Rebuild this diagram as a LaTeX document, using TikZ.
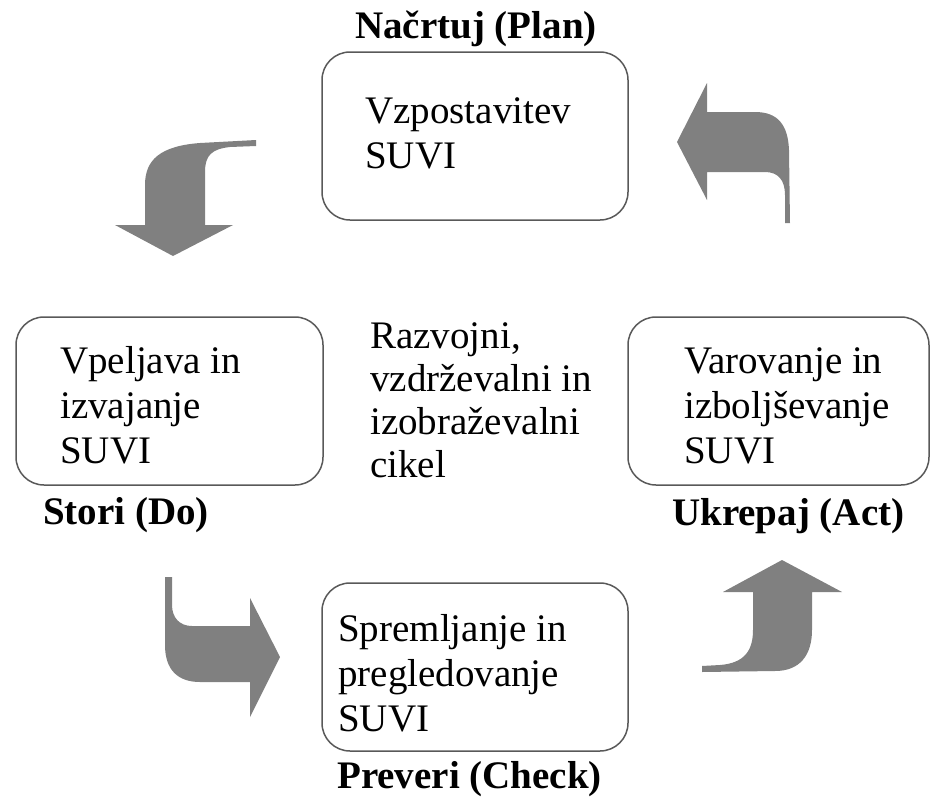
\documentclass[tikz,border=0pt]{standalone}
\usepackage{fontspec}
\setmainfont{Liberation Serif}
\begin{document}
\begin{tikzpicture}[x=1pt,y=-1pt,
  box/.style={draw=black!65,line width=1.5pt,rounded corners=28pt,minimum width=#1,minimum height=168pt,inner sep=0pt},
  body/.style={anchor=base west,inner sep=0pt,align=left,font=\fontsize{39}{45}\selectfont},
  mid/.style={anchor=base west,inner sep=0pt,align=left,font=\fontsize{39}{43}\selectfont},
  lbl/.style={anchor=base west,inner sep=0pt,font=\fontsize{39}{45}\selectfont\bfseries},
  bigarrow/.style={fill=black!50,draw=none}]
\useasboundingbox (0,0) rectangle (930,796);
% boxes
\node[box=306pt] (plan) at (475,136) {};
\node[box=307pt] (do) at (169.5,401) {};
\node[box=301pt] (act) at (778.5,401) {};
\node[box=306pt] (check) at (475,667) {};
% texts (anchored at the baseline of the last line)
\node[body] (tplan) at (365,168) {Vzpostavitev\\SUVI};
\node[body] (tdo) at (60,463) {Vpeljava in\\izvajanje\\SUVI};
\node[body] (tact) at (684,463) {Varovanje in\\izboljševanje\\SUVI};
\node[body] (tcheck) at (338,731) {Spremljanje in\\pregledovanje\\SUVI};
\node[mid] (tmid) at (370,477) {Razvojni,\\vzdrževalni in\\izobraževalni\\cikel};
% labels
\node[lbl] (lplan) at (355,38) {Načrtuj (Plan)};
\node[lbl] (ldo) at (43,524) {Stori (Do)};
\node[lbl] (lact) at (672,525) {Ukrepaj (Act)};
\node[lbl] (lcheck) at (337,788) {Preveri (Check)};
% arrows
\fill[bigarrow] (256,140) -- (200,143) .. controls (160,146) and (145,160) .. (145,185) -- (145,225) -- (115,225) -- (173,256) -- (233,225) -- (205,225) -- (205,172) .. controls (205,155) and (212,149) .. (230,147) -- (256,146) -- cycle;
\fill[bigarrow] (790,223) -- (789,150) .. controls (788,125) and (778,112) .. (755,112) -- (707,112) -- (707,83) -- (677,142) -- (707,200) -- (707,172) -- (765,172) .. controls (778,172) and (785,180) .. (785,195) -- (785,223) -- cycle;
\fill[bigarrow] (165,577) -- (165,645) .. controls (165,670) and (178,682) .. (200,682) -- (250,682) -- (250,717) -- (280,657) -- (250,598) -- (250,626) -- (192,626) .. controls (180,626) and (172,618) .. (172,605) -- (172,577) -- cycle;
\fill[bigarrow] (702,666) -- (720,665) .. controls (745,663) and (753,650) .. (753,630) -- (753,592) -- (723,592) -- (782,560) -- (842,592) -- (812,592) -- (812,630) .. controls (812,655) and (800,671) .. (775,671) -- (702,672) -- cycle;
\end{tikzpicture}
\end{document}
